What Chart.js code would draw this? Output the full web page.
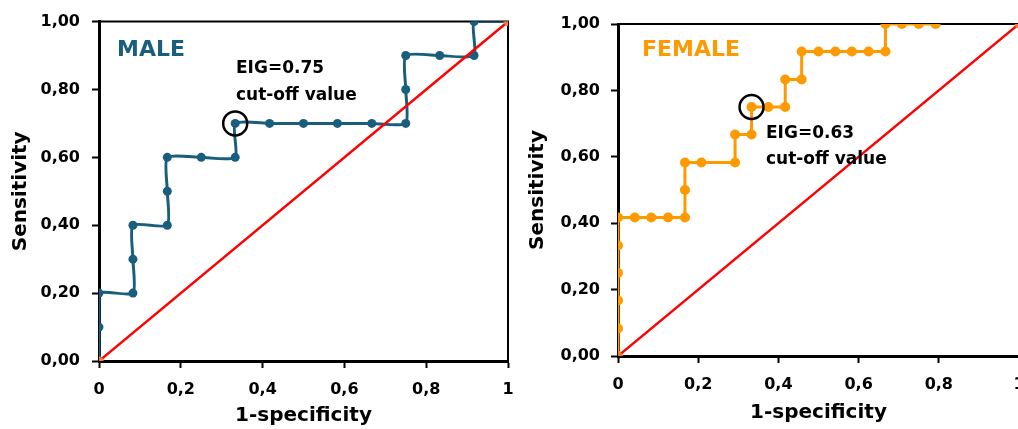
<!DOCTYPE html>
<html>
<head>
<meta charset="utf-8">
<script src="https://cdn.jsdelivr.net/npm/chart.js@4.4.1/dist/chart.umd.min.js"></script>
<style>
  html, body { margin: 0; padding: 0; background: #fff; overflow: hidden; }
  #wrap { position: relative; width: 1018px; height: 429px; overflow: hidden; }
  canvas { position: absolute; top: 0; }
  #male { left: 0; }
  #female { left: 520px; }
</style>
</head>
<body>
<div id="wrap">
  <canvas id="male" width="520" height="429"></canvas>
  <canvas id="female" width="520" height="429"></canvas>
</div>
<script>
// values
const maleFpr  = [0, 0, 0, 0.083, 0.083, 0.083, 0.167, 0.167, 0.167, 0.25, 0.333, 0.333, 0.417, 0.5, 0.583, 0.667, 0.75, 0.75, 0.75, 0.833, 0.917, 0.917, 1];
const maleSens = [0, 0.1, 0.2, 0.2, 0.3, 0.4, 0.4, 0.5, 0.6, 0.6, 0.6, 0.7, 0.7, 0.7, 0.7, 0.7, 0.7, 0.8, 0.9, 0.9, 0.9, 1, 1];

const femaleFpr  = [0, 0, 0, 0, 0, 0, 0.042, 0.083, 0.125, 0.167, 0.167, 0.167, 0.208, 0.292, 0.292, 0.333, 0.333, 0.375, 0.417, 0.417, 0.458, 0.458, 0.5, 0.542, 0.583, 0.625, 0.667, 0.667, 0.708, 0.75, 0.792];
const femaleSens = [0, 0.083, 0.167, 0.25, 0.333, 0.417, 0.417, 0.417, 0.417, 0.417, 0.5, 0.583, 0.583, 0.583, 0.667, 0.667, 0.75, 0.75, 0.75, 0.833, 0.833, 0.917, 0.917, 0.917, 0.917, 0.917, 0.917, 1, 1, 1, 1];

const refX = [0, 1];
const refY = [0, 1];

const maleCut = [0.333, 0.7];
const femaleCut = [0.333, 0.75];

const xTickLabels = ['0', '0,2', '0,4', '0,6', '0,8', '1'];
const yTickLabels = ['0,00', '0,20', '0,40', '0,60', '0,80', '1,00'];

const FONT = "'DejaVu Sans', sans-serif";
const MALE_COL = '#1A5E7E';
const FEMALE_COL = '#FF9900';

const pts = (xs, ys) => xs.map((x, i) => ({ x: x, y: ys[i] }));

// top/right frame lines + text notes
const notesPlugin = {
  id: 'notes',
  beforeDatasetsDraw(chart, args, opts) {
    const { ctx, chartArea: a } = chart;
    ctx.save();
    ctx.strokeStyle = '#000';
    ctx.lineWidth = 2;
    ctx.beginPath();
    ctx.moveTo(a.left, a.top);
    ctx.lineTo(a.right, a.top);
    ctx.lineTo(a.right, a.bottom);
    ctx.stroke();
    ctx.restore();
  },
  afterDraw(chart, args, opts) {
    const ctx = chart.ctx;
    ctx.save();
    ctx.textBaseline = 'alphabetic';
    ctx.textAlign = 'left';
    (opts.items || []).forEach(t => {
      ctx.font = 'bold ' + t.size + 'px ' + FONT;
      ctx.fillStyle = t.color;
      ctx.fillText(t.text, t.x, t.y);
    });
    ctx.restore();
  }
};

function makeRoc(id, fpr, sens, cut, color, radius, tension, geo, items) {
  new Chart(document.getElementById(id), {
    type: 'scatter',
    data: {
      datasets: [
        {
          data: [{ x: cut[0], y: cut[1] }],
          pointRadius: 12,
          pointBorderWidth: 2.5,
          pointBorderColor: '#000',
          pointBackgroundColor: 'rgba(0,0,0,0)',
          showLine: false
        },
        {
          data: pts(refX, refY),
          showLine: true,
          borderColor: '#FF0000',
          borderWidth: 2.5,
          pointRadius: 4.5,
          pointBackgroundColor: '#ED7D31',
          pointBorderWidth: 0
        },
        {
          data: pts(fpr, sens),
          showLine: true,
          borderColor: color,
          borderWidth: 3,
          tension: tension,
          pointRadius: radius,
          pointBackgroundColor: color,
          pointBorderWidth: 0
        }
      ]
    },
    options: {
      responsive: false,
      animation: false,
      layout: { autoPadding: false, padding: { left: 0, top: geo.top, right: geo.right, bottom: 0 } },
      plugins: { legend: { display: false }, tooltip: { enabled: false }, notes: { items: items } },
      scales: {
        x: {
          type: 'linear', min: 0, max: 1,
          afterFit: s => { s.height = geo.xh; s.paddingLeft = 0; s.paddingRight = 0; },
          ticks: {
            stepSize: 0.2, padding: geo.xpad, color: '#000',
            font: { family: FONT, size: 16, weight: 'bold' },
            maxRotation: 0,
            callback: (v, i) => xTickLabels[i]
          },
          grid: { drawOnChartArea: false, tickLength: 7, tickWidth: 2, tickColor: '#000' },
          border: { display: true, color: '#000', width: 3 },
          title: {
            display: true, text: '1-specificity', color: '#000',
            font: { family: FONT, size: 20, weight: 'bold' },
            padding: { top: 0, bottom: geo.xtp }
          }
        },
        y: {
          type: 'linear', min: 0, max: 1,
          afterFit: s => { s.width = geo.yw; },
          ticks: {
            stepSize: 0.2, padding: geo.ypad, color: '#000',
            font: { family: FONT, size: 16, weight: 'bold' },
            callback: (v, i) => yTickLabels[i]
          },
          grid: { drawOnChartArea: false, tickLength: 7, tickWidth: 2, tickColor: '#000' },
          border: { display: true, color: '#000', width: 3 },
          title: {
            display: true, text: 'Sensitivity', color: '#000',
            font: { family: FONT, size: 20, weight: 'bold' },
            padding: { top: geo.ytp, bottom: 0 }
          }
        }
      }
    },
    plugins: [notesPlugin]
  });
}

makeRoc('male', maleFpr, maleSens, maleCut, MALE_COL, 4.5, 0.2,
  { top: 21, right: 12, xh: 68, yw: 99, xpad: 12, ypad: 12, xtp: 1, ytp: 9 },
  [
    { text: 'MALE', x: 117, y: 56, size: 22, color: MALE_COL },
    { text: 'EIG=0.75', x: 236, y: 73, size: 17, color: '#000' },
    { text: 'cut-off value', x: 236, y: 100, size: 17, color: '#000' }
  ]);

makeRoc('female', femaleFpr, femaleSens, femaleCut, FEMALE_COL, 5, 0,
  { top: 24, right: 21, xh: 73, yw: 98, xpad: 12, ypad: 11, xtp: 4, ytp: 6 },
  [
    { text: 'FEMALE', x: 122, y: 56, size: 22, color: FEMALE_COL },
    { text: 'EIG=0.63', x: 246, y: 138, size: 17, color: '#000' },
    { text: 'cut-off value', x: 246, y: 164, size: 17, color: '#000' }
  ]);
</script>
</body>
</html>
